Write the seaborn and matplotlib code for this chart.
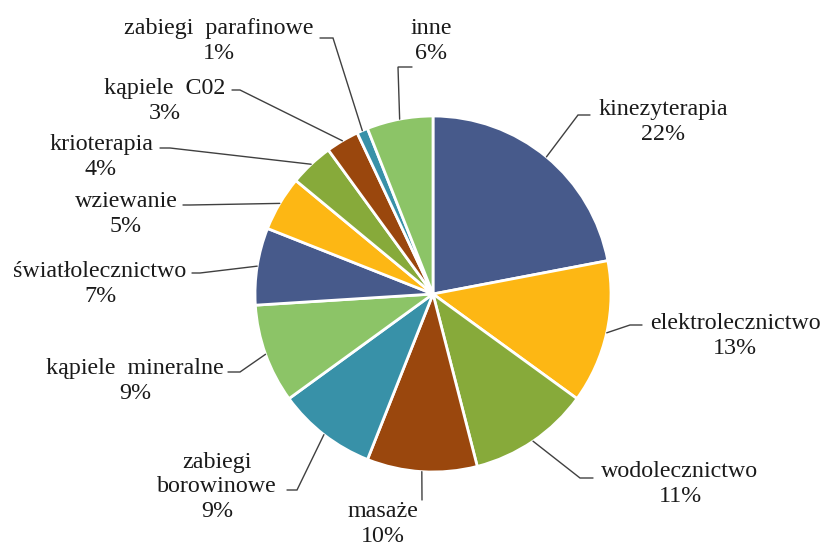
import numpy as np
import matplotlib
matplotlib.use("Agg")
import matplotlib.pyplot as plt
import seaborn as sns

labels = ["kinezyterapia", "elektrolecznictwo", "wodolecznictwo", "masaże",
          "zabiegi\nborowinowe", "kąpiele  mineralne", "światłolecznictwo",
          "wziewanie", "krioterapia", "kąpiele  C02", "zabiegi  parafinowe", "inne"]
values = [22, 13, 11, 10, 9, 9, 7, 5, 4, 3, 1, 6]
palette = ["#475A8B", "#FDB714", "#87AA3A", "#9A470D", "#3891A8", "#8CC467"]
colors = [palette[i % len(palette)] for i in range(len(values))]

# layout (pixel coordinates in the 826x542 canvas, origin top-left)
text_pos = [(663, 122), (735, 336), (680, 484), (383, 524), (217, 487),
            (135, 381), (100, 284), (126, 214), (101, 157), (165, 101),
            (219, 41), (431, 41)]
elbow = [(578, 115), (630, 325), (580, 478), (422, 500), (297, 490),
         (240, 372), (200, 273), (190, 205), (170, 148), (240, 90),
         (333, 38), (398, 67)]
line_end = [(590, 115), (642, 325), (593, 478), (422, 500), (287, 490),
            (228, 372), (192, 273), (183, 205), (160, 148), (232, 90),
            (320, 38), (412, 67)]

W, H = 826, 542
CX, CY, R = 433, 294, 178

sns.set_theme(style="white")
plt.rcParams['font.family'] = ['Liberation Serif', 'DejaVu Serif']

fig = plt.figure(figsize=(W / 100, H / 100), dpi=100)
ax = fig.add_axes([(CX - R) / W, (H - CY - R) / H, 2 * R / W, 2 * R / H])
wedges, _ = ax.pie(values, colors=colors, startangle=90, counterclock=False,
                   radius=1.0, wedgeprops=dict(edgecolor="white", linewidth=2.0))
ax.set_xlim(-1, 1)
ax.set_ylim(-1, 1)
ax.set_aspect("equal")
ax.axis("off")


def to_data(p):
    return ((p[0] - CX) / R, (CY - p[1]) / R)


total = sum(values)
for i, w in enumerate(wedges):
    ang = np.deg2rad((w.theta1 + w.theta2) / 2)
    p0 = (np.cos(ang), np.sin(ang))
    p1 = to_data(elbow[i])
    p2 = to_data(line_end[i])
    ax.plot([p0[0], p1[0], p2[0]], [p0[1], p1[1], p2[1]], color="#404040",
            lw=1.0, clip_on=False, solid_joinstyle="miter")
    pct = f"{round(values[i] / total * 100)}%"
    tx, ty = to_data(text_pos[i])
    ax.text(tx, ty, f"{labels[i]}\n{pct}", ha="center", va="center",
            fontsize=17.3, color="#1a1a1a", linespacing=1.2, clip_on=False,
            fontfamily=['Liberation Serif', 'DejaVu Serif'])

fig.savefig("out.png", dpi=100, facecolor="white")
